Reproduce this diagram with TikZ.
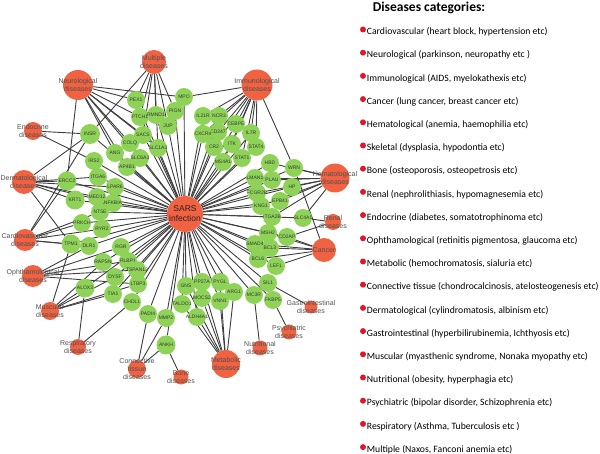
\documentclass[tikz,border=0pt]{standalone}
\usepackage{fontspec}
\setmainfont{Liberation Sans}
\newfontfamily\legfont{Carlito}
\usetikzlibrary{backgrounds}
\definecolor{dred}{RGB}{240,98,66}
\definecolor{ggreen}{RGB}{142,210,88}
\definecolor{edgec}{RGB}{62,62,62}
\definecolor{bulred}{RGB}{222,24,40}
\definecolor{dlab}{RGB}{80,80,80}
\definecolor{glab}{RGB}{55,55,55}
\definecolor{slab}{RGB}{45,35,35}
\begin{document}
\begin{tikzpicture}[x=1pt,y=-1pt,
 gene/.style={circle,fill=ggreen,inner sep=0pt,minimum size=18pt,label={[glabel]center:#1}},
 glabel/.style={font=\fontsize{5}{5}\selectfont,text=glab,inner sep=0pt},
 dis/.style={circle,fill=dred,inner sep=0pt,minimum size=#1},
 dlabel/.style={font=\fontsize{7}{8}\selectfont,text=dlab,align=center,inner sep=0pt},
 slabel/.style={font=\fontsize{8.5}{10}\selectfont,text=slab,align=center,inner sep=0pt},
 edge/.style={draw=edgec,line width=0.9pt},
 legtext/.style={font=\legfont\fontsize{9.7}{11}\selectfont,anchor=west,inner sep=0pt},
 legtitle/.style={font=\legfont\bfseries\fontsize{13.5}{15}\selectfont,anchor=west,inner sep=0pt},
 bullet/.style={circle,fill=bulred,inner sep=0pt,minimum size=6pt}]
\useasboundingbox (0,0) rectangle (600,454);
% disease nodes
\node[dis=36pt] (sars) at (185,214) {};
\node[dis=24pt] (mult) at (154,62) {};
\node[dis=30pt] (neuro) at (78,85) {};
\node[dis=31pt] (immu) at (257,85) {};
\node[dis=18pt] (endo) at (33,131) {};
\node[dis=24pt] (derm) at (24,182) {};
\node[dis=22pt] (cardio) at (25,240) {};
\node[dis=22pt] (ophth) at (33,276) {};
\node[dis=18pt] (musc) at (50,311) {};
\node[dis=16pt] (resp) at (78,347) {};
\node[dis=18pt] (conn) at (137,369) {};
\node[dis=15pt] (bone) at (181,377) {};
\node[dis=28pt] (metab) at (226,364) {};
\node[dis=15pt] (nutr) at (260,348) {};
\node[dis=15pt] (psych) at (289,332) {};
\node[dis=13pt] (gastro) at (311,307) {};
\node[dis=24pt] (cancer) at (324,250) {};
\node[dis=16pt] (renal) at (333,222) {};
\node[dis=29pt] (hemat) at (335,178) {};
% gene nodes
\node[gene=PEX1] (PEX1) at (136,100) {};
\node[gene=PTCH1] (PTCH1) at (140,117) {};
\node[gene=RMND1] (RMND1) at (156,115) {};
\node[gene=JUP] (JUP) at (168,126) {};
\node[gene=PIGN] (PIGN) at (175,111) {};
\node[gene=MPO] (MPO) at (184,97) {};
\node[gene=INSR,minimum size=20pt] (INSR) at (90,134) {};
\node[gene=SACS] (SACS) at (143,135) {};
\node[gene=COLQ] (COLQ) at (130,143) {};
\node[gene=SLC1A3] (SLC1A3) at (158,148) {};
\node[gene=ANG] (ANG) at (115,153) {};
\node[gene=SLC6A3] (SLC6A3) at (140,158) {};
\node[gene=AP4B1] (AP4B1) at (127,167) {};
\node[gene=IRS2] (IRS2) at (94,161) {};
\node[gene=ERCC2,minimum size=19pt] (ERCC2) at (67,181) {};
\node[gene=ITGA6] (ITGA6) at (98,177) {};
\node[gene=LPAR6] (LPAR6) at (115,187) {};
\node[gene=KRT1,minimum size=19pt] (KRT1) at (75,200) {};
\node[gene=MED12] (MED12) at (97,197) {};
\node[gene=NFKBIA] (NFKBIA) at (113,203) {};
\node[gene=NT5E] (NT5E) at (100,212) {};
\node[gene=PRKCH] (PRKCH) at (82,223) {};
\node[gene=RYR2] (RYR2) at (102,229) {};
\node[gene=TPM1,minimum size=19pt] (TPM1) at (71,244) {};
\node[gene=DLR1] (DLR1) at (89,246) {};
\node[gene=RGR] (RGR) at (121,247) {};
\node[gene=RAPSN] (RAPSN) at (103,262) {};
\node[gene=RLBP1] (RLBP1) at (128,261) {};
\node[gene=TSPAN12] (TSPAN12) at (137,270) {};
\node[gene=DYSF] (DYSF) at (115,277) {};
\node[gene=LTBP3] (LTBP3) at (138,284) {};
\node[gene=ALOX3,minimum size=19pt] (ALOX3) at (85,288) {};
\node[gene=TIA1] (TIA1) at (113,294) {};
\node[gene=CHDL1] (CHDL1) at (132,302) {};
\node[gene=PADI4] (PADI4) at (148,314) {};
\node[gene=MMP2] (MMP2) at (166,318) {};
\node[gene=ANKH,minimum size=19pt] (ANKH) at (166,345) {};
\node[gene=GNS] (GNS) at (186,286) {};
\node[gene=PP27A] (PP27A) at (202,282) {};
\node[gene=PYGL] (PYGL) at (220,282) {};
\node[gene=ARG1] (ARG1) at (234,292) {};
\node[gene=MOCS2] (MOCS2) at (202,298) {};
\node[gene=VNN1] (VNN1) at (220,301) {};
\node[gene=TALDO1] (TALDO1) at (182,304) {};
\node[gene=ALDH4A1] (ALDH4A1) at (197,317) {};
\node[gene=MC3R] (MC3R) at (254,295) {};
\node[gene=FKBP5] (FKBP5) at (273,300) {};
\node[gene=SIL1] (SIL1) at (268,283) {};
\node[gene=LEF1] (LEF1) at (276,266) {};
\node[gene=BCL6] (BCL6) at (258,259) {};
\node[gene=BCL3] (BCL3) at (270,248) {};
\node[gene=SMAD4] (SMAD4) at (255,244) {};
\node[gene=MSH2] (MSH2) at (268,233) {};
\node[gene=CD2AP] (CD2AP) at (287,237) {};
\node[gene=ITGA2B] (ITGA2B) at (272,217) {};
\node[gene=SLC4A1] (SLC4A1) at (303,218) {};
\node[gene=KNG1] (KNG1) at (261,206) {};
\node[gene=EPB41] (EPB41) at (280,201) {};
\node[gene=FCGR2B] (FCGR2B) at (257,193) {};
\node[gene=HP] (HP) at (292,187) {};
\node[gene=LMAN1] (LMAN1) at (255,178) {};
\node[gene=PLAU] (PLAU) at (272,180) {};
\node[gene=HBD] (HBD) at (270,163) {};
\node[gene=WRN] (WRN) at (294,168) {};
\node[gene=STAT4] (STAT4) at (256,147) {};
\node[gene=STAT1] (STAT1) at (242,158) {};
\node[gene=MS4A1] (MS4A1) at (223,162) {};
\node[gene=CR2] (CR2) at (214,147) {};
\node[gene=ITK] (ITK) at (232,144) {};
\node[gene=IL7R] (IL7R) at (251,133) {};
\node[gene=CEBPE] (CEBPE) at (236,124) {};
\node[gene=CD247] (CD247) at (218,132) {};
\node[gene=CXCR4] (CXCR4) at (203,134) {};
\node[gene=IL21R] (IL21R) at (203,116) {};
\node[gene=NCR3] (NCR3) at (219,116) {};
% disease labels
\node[slabel] (sarsl) at (sars) {SARS\\infection};
\node[dlabel] (multl) at (mult) {Multiple\\diseases};
\node[dlabel] (neurol) at (neuro) {Neurological\\diseases};
\node[dlabel] (immul) at (immu) {Immunological\\diseases};
\node[dlabel] (endol) at (endo) {Endocrine\\diseases};
\node[dlabel] (derml) at (derm) {Dermatological\\diseases};
\node[dlabel] (cardiol) at (cardio) {Cardiovascular\\diseases};
\node[dlabel] (ophthl) at (ophth) {Ophthamological\\diseases};
\node[dlabel] (muscl) at (musc) {Muscular\\diseases};
\node[dlabel] (respl) at (resp) {Respiratory\\diseases};
\node[dlabel] (connl) at (conn) {Connective\\tissue\\diseases};
\node[dlabel] (bonel) at (bone) {Bone\\diseases};
\node[dlabel] (metabl) at (metab) {Metabolic\\diseases};
\node[dlabel] (nutrl) at (nutr) {Nutritional\\diseases};
\node[dlabel] (psychl) at (psych) {Psychiatric\\diseases};
\node[dlabel] (gastrol) at (gastro) {Gastrointestinal\\diseases};
\node[dlabel] (cancerl) at (cancer) {Cancer};
\node[dlabel] (renall) at (renal) {Renal\\diseases};
\node[dlabel] (hematl) at (hemat) {Hematological\\diseases};
% edges
\begin{scope}[on background layer]
\foreach \g in {PEX1,PTCH1,RMND1,JUP,PIGN,MPO,INSR,SACS,COLQ,SLC1A3,ANG,SLC6A3,AP4B1,IRS2,ERCC2,ITGA6,LPAR6,KRT1,MED12,NFKBIA,NT5E,PRKCH,RYR2,TPM1,DLR1,RGR,RAPSN,RLBP1,TSPAN12,DYSF,LTBP3,ALOX3,TIA1,CHDL1,PADI4,MMP2,ANKH,GNS,PP27A,PYGL,ARG1,MOCS2,VNN1,TALDO1,ALDH4A1,MC3R,FKBP5,SIL1,LEF1,BCL6,BCL3,SMAD4,MSH2,CD2AP,ITGA2B,SLC4A1,KNG1,EPB41,FCGR2B,HP,LMAN1,PLAU,HBD,WRN,STAT4,STAT1,MS4A1,CR2,ITK,IL7R,CEBPE,CD247,CXCR4,IL21R,NCR3}
  \draw[edge] (sars) -- (\g);
\foreach \d/\g in {neuro/PEX1,neuro/SACS,neuro/COLQ,neuro/SLC1A3,neuro/ANG,neuro/SLC6A3,neuro/AP4B1,neuro/MPO,neuro/ERCC2,neuro/PTCH1,
  mult/INSR,mult/PEX1,mult/PTCH1,mult/RMND1,mult/JUP,mult/PIGN,mult/SACS,mult/SLC1A3,
  immu/MPO,immu/IL21R,immu/NCR3,immu/CXCR4,immu/CD247,immu/CEBPE,immu/IL7R,immu/CR2,immu/ITK,immu/STAT4,immu/STAT1,immu/MS4A1,immu/WRN,
  endo/INSR,endo/IRS2,
  derm/INSR,derm/ERCC2,derm/ITGA6,derm/LPAR6,derm/KRT1,derm/MED12,derm/NFKBIA,derm/TPM1,
  cardio/ERCC2,cardio/PRKCH,cardio/RYR2,cardio/TPM1,cardio/NT5E,cardio/DLR1,cardio/INSR,
  ophth/RLBP1,ophth/RGR,ophth/TSPAN12,ophth/LTBP3,ophth/DLR1,
  musc/RAPSN,musc/DYSF,musc/ALOX3,musc/TIA1,musc/LTBP3,musc/TPM1,
  resp/ALOX3,resp/CHDL1,
  conn/PADI4,conn/MMP2,conn/ANKH,
  bone/ANKH,
  metab/GNS,metab/PP27A,metab/PYGL,metab/ARG1,metab/MOCS2,metab/VNN1,metab/TALDO1,metab/ALDH4A1,
  nutr/MC3R,psych/FKBP5,gastro/SIL1,
  cancer/MSH2,cancer/CD2AP,cancer/BCL3,cancer/LEF1,cancer/BCL6,cancer/SMAD4,cancer/WRN,
  renal/SLC4A1,renal/CD2AP,
  hemat/HBD,hemat/WRN,hemat/HP,hemat/LMAN1,hemat/PLAU,hemat/FCGR2B,hemat/EPB41,hemat/KNG1,hemat/ITGA2B,hemat/SLC4A1}
  \draw[edge] (\d) -- (\g);
\end{scope}
% legend
\node[legtitle] (legt) at (372.7,8) {Diseases categories:};
\foreach [count=\i from 0] \t in {
 {Cardiovascular (heart block, hypertension etc)},
 {Neurological (parkinson, neuropathy etc )},
 {Immunological (AIDS, myelokathexis etc)},
 {Cancer (lung cancer, breast cancer etc)},
 {Hematological (anemia, haemophilia etc)},
 {Skeletal (dysplasia, hypodontia etc)},
 {Bone (osteoporosis, osteopetrosis etc)},
 {Renal (nephrolithiasis, hypomagnesemia etc)},
 {Endocrine (diabetes, somatotrophinoma etc)},
 {Ophthamological (retinitis pigmentosa, glaucoma etc)},
 {Metabolic (hemochromatosis, sialuria etc)},
 {Connective tissue (chondrocalcinosis, atelosteogenesis etc)},
 {Dermatological (cylindromatosis, albinism etc)},
 {Gastrointestinal (hyperbilirubinemia, Ichthyosis etc)},
 {Muscular (myasthenic syndrome, Nonaka myopathy etc)},
 {Nutritional (obesity, hyperphagia etc)},
 {Psychiatric (bipolar disorder, Schizophrenia etc)},
 {Respiratory (Asthma, Tuberculosis etc )},
 {Multiple (Naxos, Fanconi anemia etc)}}
{
 \node[bullet] (b\i) at (363,{29.5+23.2*\i}) {};
 \node[legtext] (l\i) at (366.7,{32+23.2*\i}) {\t};
}
\end{tikzpicture}
\end{document}
